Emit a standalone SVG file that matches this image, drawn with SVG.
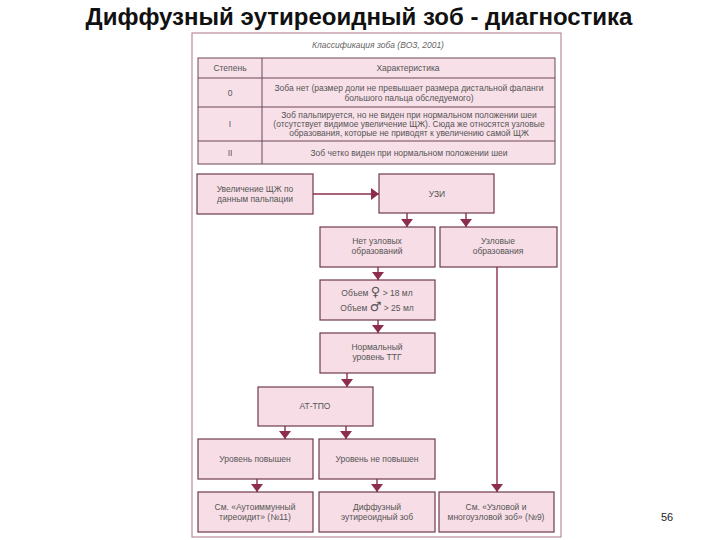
<svg xmlns="http://www.w3.org/2000/svg" width="720" height="540" viewBox="0 0 720 540">
<defs>
<marker id="ah" viewBox="0 0 8 12" refX="8" refY="6" markerWidth="8" markerHeight="12" markerUnits="userSpaceOnUse" orient="auto">
<path d="M0,0 L8,6 L0,12 Z" fill="#8C2D4E"/>
</marker>
<style>
.title{font-family:"Liberation Sans",Arial,sans-serif;font-weight:bold;font-size:24px;fill:#111}
.frame{fill:#fff;stroke:#B98CA0;stroke-width:1.2}
.tbl{fill:#F8E0E9;stroke:#6E4658;stroke-width:1}
.box{fill:#F7DDE6;stroke:#6E3A4E;stroke-width:1.2}
.t{font-family:"Liberation Sans",Arial,sans-serif;font-size:8.5px;fill:#555;text-anchor:middle}
.sym{font-family:"DejaVu Sans",sans-serif;font-size:13px}
.cap{font-family:"Liberation Sans",Arial,sans-serif;font-size:8.5px;font-style:italic;fill:#666;text-anchor:middle}
.pg{font-family:"Liberation Sans",Arial,sans-serif;font-size:11px;fill:#222}
.c{fill:none;stroke:#8C2D4E;stroke-width:1.4}
</style>
</defs>
<rect width="720" height="540" fill="#fff"/>
<text class="title" x="359" y="25" text-anchor="middle">Диффузный эутиреоидный зоб - диагностика</text>
<rect class="frame" x="192" y="33" width="369" height="504"/>
<g id="table">
<text class="cap" x="378" y="48">Классификация зоба (ВОЗ, 2001)</text>
<rect class="tbl" x="198" y="58" width="357" height="106"/>
<line x1="198" y1="78" x2="555" y2="78" stroke="#6E4658"/>
<line x1="198" y1="107" x2="555" y2="107" stroke="#6E4658"/>
<line x1="198" y1="141" x2="555" y2="141" stroke="#6E4658"/>
<line x1="262" y1="58" x2="262" y2="164" stroke="#6E4658"/>
<text class="t" x="230" y="71">Степень</text>
<text class="t" x="408" y="71">Характеристика</text>
<text class="t" x="230" y="96">0</text>
<text class="t" x="409" y="91">Зоба нет (размер доли не превышает размера дистальной фаланги</text>
<text class="t" x="409" y="101">большого пальца обследуемого)</text>
<text class="t" x="230" y="127">I</text>
<text class="t" x="409" y="118">Зоб пальпируется, но не виден при нормальном положении шеи</text>
<text class="t" x="409" y="127">(отсутствует видимое увеличение ЩЖ). Сюда же относятся узловые</text>
<text class="t" x="409" y="136">образования, которые не приводят к увеличению самой ЩЖ</text>
<text class="t" x="230" y="156">II</text>
<text class="t" x="409" y="156">Зоб четко виден при нормальном положении шеи</text>
</g>
<g id="connectors">
<line class="c" x1="313" y1="194" x2="379" y2="194" marker-end="url(#ah)"/>
<line class="c" x1="407" y1="213" x2="407" y2="227" marker-end="url(#ah)"/>
<line class="c" x1="466" y1="213" x2="466" y2="227" marker-end="url(#ah)"/>
<line class="c" x1="378" y1="267" x2="378" y2="280" marker-end="url(#ah)"/>
<line class="c" x1="378" y1="320" x2="378" y2="333" marker-end="url(#ah)"/>
<line class="c" x1="347" y1="373" x2="347" y2="387" marker-end="url(#ah)"/>
<line class="c" x1="285" y1="426" x2="285" y2="439" marker-end="url(#ah)"/>
<line class="c" x1="346" y1="426" x2="346" y2="439" marker-end="url(#ah)"/>
<line class="c" x1="257" y1="479" x2="257" y2="492" marker-end="url(#ah)"/>
<line class="c" x1="377" y1="479" x2="377" y2="492" marker-end="url(#ah)"/>
<line class="c" x1="497" y1="267" x2="497" y2="492" marker-end="url(#ah)"/>
</g>
<g id="n-palp"><rect class="box" x="197" y="174" width="116" height="40"/>
<text class="t" x="255" y="192">Увеличение ЩЖ по</text><text class="t" x="255" y="202">данным пальпации</text></g>
<g id="n-uzi"><rect class="box" x="379" y="174" width="115" height="39"/>
<text class="t" x="437" y="197">УЗИ</text></g>
<g id="n-net"><rect class="box" x="320" y="227" width="115" height="40"/>
<text class="t" x="377" y="244">Нет узловых</text><text class="t" x="377" y="254">образований</text></g>
<g id="n-uzl"><rect class="box" x="440" y="227" width="117" height="40"/>
<text class="t" x="498" y="244">Узловые</text><text class="t" x="498" y="254">образования</text></g>
<g id="n-vol"><rect class="box" x="320" y="280" width="115" height="40"/>
<text class="t" x="377" y="296">Объем <tspan class="sym">♀</tspan> &gt; 18 мл</text><text class="t" x="377" y="311">Объем <tspan class="sym">♂</tspan> &gt; 25 мл</text></g>
<g id="n-ttg"><rect class="box" x="320" y="333" width="115" height="40"/>
<text class="t" x="377" y="350">Нормальный</text><text class="t" x="377" y="360">уровень ТТГ</text></g>
<g id="n-at"><rect class="box" x="258" y="387" width="115" height="39"/>
<text class="t" x="315" y="409">АТ-ТПО</text></g>
<g id="n-pov"><rect class="box" x="198" y="439" width="115" height="40"/>
<text class="t" x="255" y="462">Уровень повышен</text></g>
<g id="n-nepov"><rect class="box" x="319" y="439" width="116" height="40"/>
<text class="t" x="377" y="462">Уровень не повышен</text></g>
<g id="n-ait"><rect class="box" x="198" y="492" width="115" height="40"/>
<text class="t" x="255" y="510">См. «Аутоиммунный</text><text class="t" x="255" y="520">тиреоидит» (№11)</text></g>
<g id="n-dez"><rect class="box" x="319" y="492" width="116" height="40"/>
<text class="t" x="377" y="510">Диффузный</text><text class="t" x="377" y="520">эутиреоидный зоб</text></g>
<g id="n-mnz"><rect class="box" x="439" y="492" width="115" height="40"/>
<text class="t" x="496" y="510">См. «Узловой и</text><text class="t" x="496" y="520">многоузловой зоб» (№9)</text></g>
<text class="pg" x="661" y="521">56</text>
</svg>
